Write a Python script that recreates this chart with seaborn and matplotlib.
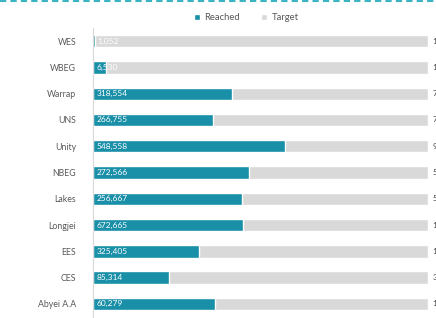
import pandas as pd
import numpy as np
import matplotlib.pyplot as plt
from matplotlib.lines import Line2D
from matplotlib.patches import Patch
import seaborn as sns

sns.set_theme(style='white')
plt.rcParams['font.family'] = ['Lato', 'DejaVu Sans']

# Colours
c_teal = '#1A8FA8'
c_grey = '#D9D9D9'
c_text = '#595959'

# Data
regions = ['WES', 'WBEG', 'Warrap', 'UNS', 'Unity', 'NBEG', 'Lakes',
           'Longjei', 'EES', 'CES', 'Abyei A.A']
reached = [1052, 6530, 318554, 266755, 548558, 272566, 256667,
           672665, 325405, 85314, 60279]
target = [175300, 167400, 767600, 745100, 957300, 584900, 576800,
          1501500, 1029800, 375800, 165600]

df = pd.DataFrame({'region': regions, 'reached': reached, 'target': target})
df['reached_pct'] = df['reached'] / df['target']
df['target_pct'] = df['target'] / df['target']

fig = plt.figure(figsize=(4.36, 3.18), dpi=100)
ax = fig.add_axes([0.213, 0.003, 0.769, 0.909])

# Target first (background), then reached on top
sns.barplot(data=df, y='region', x='target_pct', color=c_grey, width=0.47,
            orient='h', ax=ax, saturation=1)
sns.barplot(data=df, y='region', x='reached_pct', color=c_teal, width=0.47,
            orient='h', ax=ax, saturation=1)

ax.set_xlim(0, 1)
ax.set_ylim(len(regions) - 0.5, -0.5)
ax.set_xlabel('')
ax.set_ylabel('')
ax.set_xticks([])
ax.tick_params(axis='y', length=0, pad=12, labelsize=6.3, labelcolor=c_text)

for side in ['top', 'right', 'bottom']:
    ax.spines[side].set_visible(False)
ax.spines['left'].set_color('#D9D9D9')
ax.spines['left'].set_linewidth(0.8)

# Value labels (target labels run off the right edge, as in the source)
for i, row in df.iterrows():
    ax.text(0.012, i, f"{row['reached']:,}", va='center', ha='left',
            fontsize=6, color='white')
    ax.text(1.012, i, f"{row['target']:,}", va='center', ha='left',
            fontsize=6, color='#404040', clip_on=False)

# Legend
handles = [Patch(facecolor=c_teal, label='Reached'),
           Patch(facecolor=c_grey, label='Target')]
fig.legend(handles=handles, loc='center', bbox_to_anchor=(0.565, 0.945),
           ncol=2, frameon=False, fontsize=6.8, labelcolor=c_text,
           handlelength=0.6, handleheight=0.6, handletextpad=0.5,
           columnspacing=2.2)

# Dashed border line across the top
fig.add_artist(Line2D([0, 1], [0.997, 0.997], transform=fig.transFigure,
                      color='#3BB3C3', linestyle=(0, (3, 2)), linewidth=1.5))

fig.savefig('out.png', dpi=100)
